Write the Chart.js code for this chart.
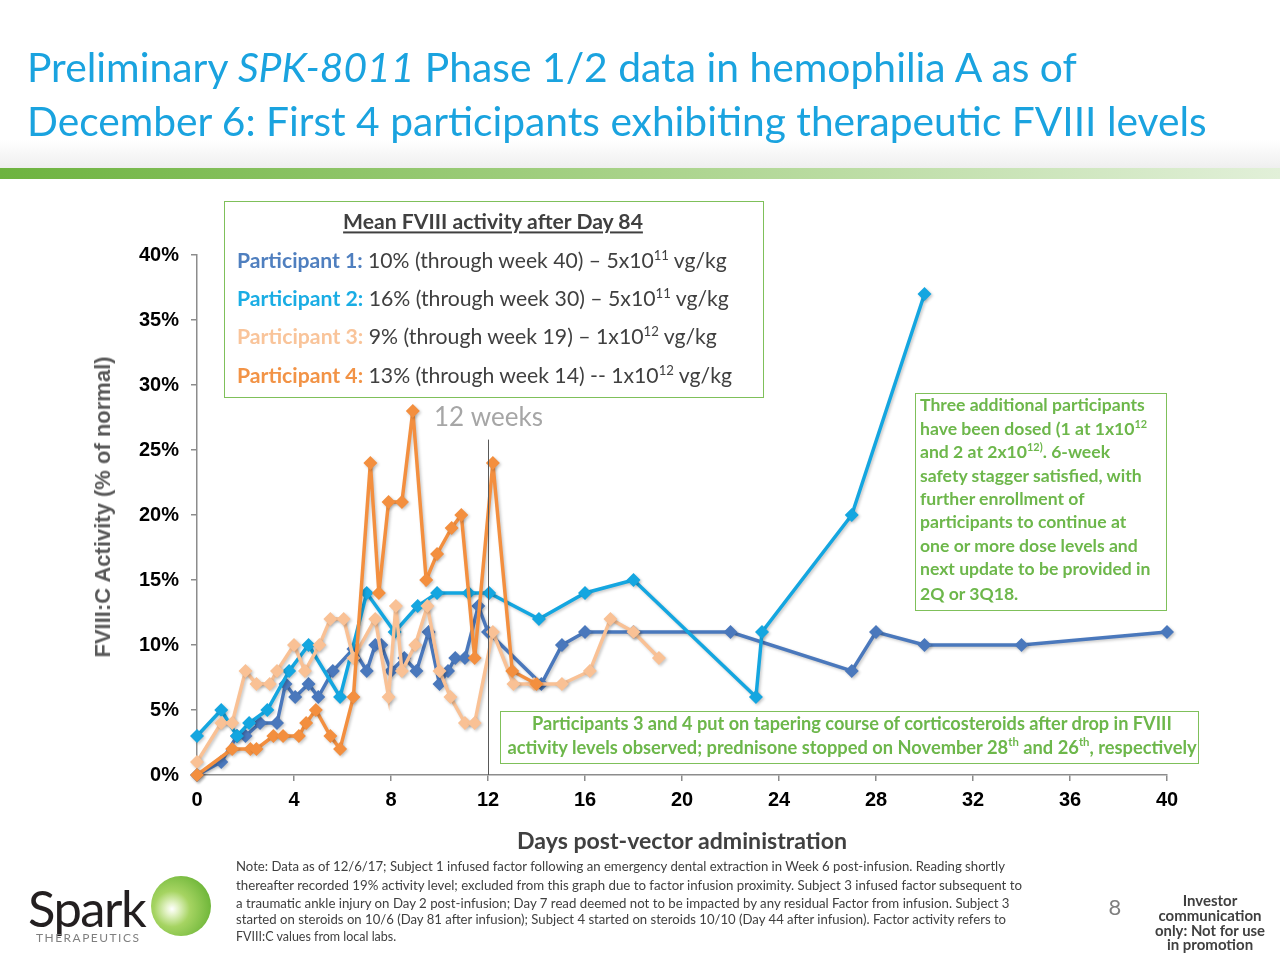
<!DOCTYPE html>
<html>
<head>
<meta charset="utf-8">
<script src="https://cdn.jsdelivr.net/npm/chart.js@4.4.1/dist/chart.umd.min.js"></script>
<style>
  body { margin: 0; background: #fff; }
  #page { position: relative; width: 1280px; height: 960px; overflow: hidden; font-family: Lato, "Open Sans", sans-serif; color: #404040; }
  #chart { position: absolute; left: 0; top: 0; }
  .t { position: absolute; white-space: nowrap; line-height: 1; transform: translateY(-50%); }
  .c { transform: translate(-50%, -50%); }
  .title { color: #1AA3DF; font-size: 40px; }
  .box { position: absolute; border: 1.5px solid #7FC05A; box-sizing: border-box; }
  .g { color: #6DB74B; font-weight: bold; font-size: 16px; }
  .r { font-size: 17.6px; }
  .b { font-weight: bold; }
  sup { font-size: 0.62em; line-height: 0; vertical-align: 0.65em; }
  .note { font-size: 12.5px; color: #404040; }
</style>
</head>
<body>
<div id="page">
  <div style="position:absolute;left:0;top:140px;width:1280px;height:28px;background:linear-gradient(to bottom,#fff,#efefef);"></div>
  <div style="position:absolute;left:0;top:168px;width:1280px;height:11px;background:linear-gradient(to right,#6DB33F,#A9D38A 50%,#E2F0D9);"></div>

  <canvas id="chart" width="1280" height="960"></canvas>

  <div class="t title" style="left:27px;top:67px" data-w="1050">Preliminary <i>SPK-8011</i> Phase 1/2 data in hemophilia A as of</div>
  <div class="t title" style="left:27px;top:121px" data-w="1180">December 6: First 4 participants exhibiting therapeutic FVIII levels</div>

  <div class="box" style="left:224px;top:201px;width:540px;height:197px"></div>
  <div class="t c b" style="left:493px;top:222px;font-size:20px;text-decoration:underline" data-w="300">Mean FVIII activity after Day 84</div>
  <div class="t" style="left:237px;top:261px;font-size:20px" data-w="490"><span class="b" style="color:#4F7FBF">Participant 1:</span> 10% (through week 40) – 5x10<sup>11</sup> vg/kg</div>
  <div class="t" style="left:237px;top:299px;font-size:20px" data-w="492"><span class="b" style="color:#1AADE4">Participant 2:</span> 16% (through week 30) – 5x10<sup>11</sup> vg/kg</div>
  <div class="t" style="left:237px;top:337px;font-size:20px" data-w="480"><span class="b" style="color:#F9C49A">Participant 3:</span> 9% (through week 19) – 1x10<sup>12</sup> vg/kg</div>
  <div class="t" style="left:237px;top:376px;font-size:20px" data-w="495"><span class="b" style="color:#F29346">Participant 4:</span> 13% (through week 14) -- 1x10<sup>12</sup> vg/kg</div>

  <div class="box" style="left:915px;top:393px;width:252px;height:218px"></div>
  <div class="t g r" style="left:920px;top:405px">Three additional participants</div>
  <div class="t g r" style="left:920px;top:429px">have been dosed (1 at 1x10<sup>12</sup></div>
  <div class="t g r" style="left:920px;top:452px">and 2 at 2x10<sup>12)</sup>. 6-week</div>
  <div class="t g r" style="left:920px;top:476px">safety stagger satisfied, with</div>
  <div class="t g r" style="left:920px;top:499px">further enrollment of</div>
  <div class="t g r" style="left:920px;top:522px">participants to continue at</div>
  <div class="t g r" style="left:920px;top:546px">one or more dose levels and</div>
  <div class="t g r" style="left:920px;top:569px">next update to be provided in</div>
  <div class="t g r" style="left:920px;top:594px">2Q or 3Q18.</div>

  <div class="box" style="left:500px;top:711px;width:699px;height:53px"></div>
  <div class="t c g" style="left:852px;top:723px" data-w="640">Participants 3 and 4 put on tapering course of corticosteroids after drop in FVIII</div>
  <div class="t c g" style="left:852px;top:747px" data-w="690">activity levels observed; prednisone stopped on November 28<sup>th</sup> and 26<sup>th</sup>, respectively</div>

  <div class="t c b" style="left:682px;top:841px;font-size:23px" data-w="330">Days post-vector administration</div>
  <div class="t" style="left:103px;top:507px;font:bold 22px 'Liberation Sans',Arial,sans-serif;color:#595959;transform:translate(-50%,-50%) rotate(-90deg)">FVIII:C Activity (% of normal)</div>

  <div class="t note" style="left:236px;top:867px" data-w="769">Note: Data as of 12/6/17; Subject 1 infused factor following an emergency dental extraction in Week 6 post-infusion. Reading shortly</div>
  <div class="t note" style="left:236px;top:886px" data-w="786">thereafter recorded 19% activity level; excluded from this graph due to factor infusion proximity. Subject 3 infused factor subsequent to</div>
  <div class="t note" style="left:236px;top:904px" data-w="774">a traumatic ankle injury on Day 2 post-infusion; Day 7 read deemed not to be impacted by any residual Factor from infusion. Subject 3</div>
  <div class="t note" style="left:236px;top:920px" data-w="771">started on steroids on 10/6 (Day 81 after infusion); Subject 4 started on steroids 10/10 (Day 44 after infusion). Factor activity refers to</div>
  <div class="t note" style="left:236px;top:937px">FVIII:C values from local labs.</div>

  <div class="t" style="left:28px;top:908px;font-size:56px;color:#231F20;letter-spacing:-1.5px" data-w="118">Spark</div>
  <div class="t" style="left:36px;top:938px;font-size:10px;color:#7f7f7f;letter-spacing:1.5px" data-w="108">THERAPEUTICS</div>
  <div style="position:absolute;left:151px;top:876px;width:60px;height:60px;border-radius:50%;background:radial-gradient(circle at 35% 55%,#ffffff 0%,#e4f3c8 12%,#a6d462 35%,#72b83c 75%,#5ea430 100%);"></div>

  <div class="t c" style="left:1115px;top:907px;font-size:22px;color:#7f7f7f">8</div>
  <div class="t c b" style="left:1210px;top:900px;font-size:15px">Investor</div>
  <div class="t c b" style="left:1210px;top:915px;font-size:15px">communication</div>
  <div class="t c b" style="left:1210px;top:930px;font-size:15px" data-w="110">only: Not for use</div>
  <div class="t c b" style="left:1210px;top:944px;font-size:15px">in promotion</div>
</div>

<script>
// weeks post-vector and FVIII:C activity (%) per participant
const p1Weeks = [0, 1, 1.65, 2, 2.6, 3.3, 3.65, 4.05, 4.6, 5, 5.6, 6.45, 7, 7.35, 7.6, 8, 8.55, 9.05, 9.55, 10, 10.35, 10.65, 11.05, 11.6, 12, 14.2, 15.05, 16, 18, 22, 27, 28, 30, 34, 40];
const p1Values = [0, 1, 3, 3, 4, 4, 7, 6, 7, 6, 8, 9.7, 8, 10, 10, 8, 9, 8, 11, 7, 8, 9, 9, 13, 11, 7, 10, 11, 11, 11, 8, 11, 10, 10, 11];

const p2Weeks = [0, 1, 1.65, 2.15, 2.9, 3.8, 4.6, 5.9, 7, 8.15, 9.1, 9.9, 11.2, 12.05, 14.1, 16, 18, 23.05, 23.3, 27, 30];
const p2Values = [3, 5, 3, 4, 5, 8, 10, 6, 14, 11, 13, 14, 14, 14, 12, 14, 15, 6, 11, 20, 37];

const p3Weeks = [0, 1, 1.45, 2, 2.45, 3, 3.3, 4, 4.45, 5.05, 5.5, 6.05, 6.45, 7.35, 7.9, 8.2, 8.45, 9, 9.5, 10, 10.45, 11.05, 11.45, 12.2, 13.05, 13.9, 15.05, 16.2, 17.05, 18, 19.05];
const p3Values = [1, 4, 4, 8, 7, 7, 8, 10, 8, 10, 12, 12, 9, 12, 6, 13, 8, 10, 13, 8, 6, 4, 4, 11, 7, 7, 7, 8, 12, 11, 9];

const p4Weeks = [0, 1.45, 2.2, 2.45, 3.15, 3.55, 4.2, 4.5, 4.9, 5.5, 5.9, 6.45, 7.15, 7.5, 7.9, 8.45, 8.9, 9.45, 9.9, 10.5, 10.9, 11.45, 12.2, 13, 14];
const p4Values = [0, 2, 2, 2, 3, 3, 3, 4, 5, 3, 2, 6, 24, 14, 21, 21, 28, 15, 17, 19, 20, 9, 24, 8, 7];

const xTicks = [0, 40, 4];   // min, max, step (weeks)
const yTicks = [0, 40, 5];   // min, max, step (%)

const markerWeek = 12;
const markerTop = 25.8;
const markerLabelY = 27.5;
const markerLabel = '12 weeks';

const pts = (xs, ys) => xs.map((x, i) => ({ x: x, y: ys[i] }));

function series(label, xs, ys, color, order) {
  return {
    label: label,
    data: pts(xs, ys),
    borderColor: color,
    backgroundColor: color,
    borderWidth: 3.5,
    pointStyle: 'rectRot',
    pointRadius: 7,
    pointBorderWidth: 0,
    showLine: true,
    tension: 0,
    clip: false,
    order: order
  };
}

// soft drop shadow under the series, like the slide
const seriesShadow = {
  id: 'seriesShadow',
  beforeDatasetsDraw(chart) {
    const ctx = chart.ctx;
    ctx.save();
    ctx.shadowColor = 'rgba(0,0,0,0.22)';
    ctx.shadowBlur = 3;
    ctx.shadowOffsetX = 1.5;
    ctx.shadowOffsetY = 1.5;
  },
  afterDatasetsDraw(chart) {
    chart.ctx.restore();
  }
};

const weekMarker = {
  id: 'weekMarker',
  afterDatasetsDraw(chart) {
    const { ctx, scales: { x, y } } = chart;
    const px = Math.round(x.getPixelForValue(markerWeek)) + 0.5;
    ctx.save();
    ctx.strokeStyle = '#595959';
    ctx.lineWidth = 1;
    ctx.beginPath();
    ctx.moveTo(px, y.getPixelForValue(markerTop));
    ctx.lineTo(px, y.getPixelForValue(0));
    ctx.stroke();
    ctx.fillStyle = '#A6A6A6';
    ctx.font = '26px Lato';
    ctx.textAlign = 'center';
    ctx.textBaseline = 'middle';
    ctx.fillText(markerLabel, px, y.getPixelForValue(markerLabelY));
    ctx.restore();
  }
};

const tickFont = { family: "'Liberation Sans', Arial, sans-serif", weight: 'bold', size: 20 };
const axisGrid = { drawOnChartArea: false, drawTicks: true, tickLength: 6, color: '#8c8c8c', lineWidth: 1.5 };

new Chart(document.getElementById('chart'), {
  type: 'scatter',
  data: {
    datasets: [
      series('Participant 1', p1Weeks, p1Values, '#4A78BC', 4),
      series('Participant 2', p2Weeks, p2Values, '#14A6E0', 3),
      series('Participant 3', p3Weeks, p3Values, '#F9C195', 2),
      series('Participant 4', p4Weeks, p4Values, '#F38F3F', 1)
    ]
  },
  options: {
    responsive: false,
    animation: false,
    devicePixelRatio: 1,
    layout: { padding: { top: 255, right: 113, bottom: 0, left: 0 } },
    plugins: { legend: { display: false }, tooltip: { enabled: false } },
    scales: {
      x: {
        type: 'linear',
        min: xTicks[0], max: xTicks[1],
        ticks: { stepSize: xTicks[2], color: '#000', font: tickFont, padding: 7 },
        grid: axisGrid,
        border: { color: '#8c8c8c', width: 1.5 },
        afterFit(s) { s.height = 185; }
      },
      y: {
        min: yTicks[0], max: yTicks[1],
        ticks: { stepSize: yTicks[2], color: '#000', font: tickFont, padding: 12, callback: v => v + '%' },
        grid: axisGrid,
        border: { color: '#8c8c8c', width: 1.5 },
        afterFit(s) { s.width = 197; }
      }
    }
  },
  plugins: [seriesShadow, weekMarker]
});

// scale text lines so they span the same width as in the slide
document.querySelectorAll('[data-w]').forEach(el => {
  const fs = parseFloat(getComputedStyle(el).fontSize);
  const w = el.getBoundingClientRect().width;
  el.style.fontSize = (fs * (+el.dataset.w) / w).toFixed(2) + 'px';
});
</script>
</body>
</html>
